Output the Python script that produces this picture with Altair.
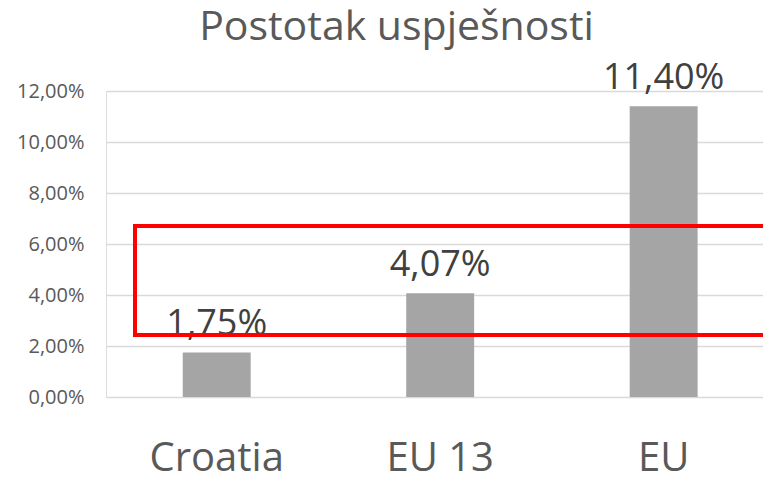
import altair as alt
import pandas as pd

categories = ["Croatia", "EU 13", "EU"]
values = [0.0175, 0.0407, 0.1140]
value_labels = ["1,75%", "4,07%", "11,40%"]
y_ticks = [0.0, 0.02, 0.04, 0.06, 0.08, 0.10, 0.12]
highlight_low = [0.0243]
highlight_high = [0.0671]

df = pd.DataFrame({"cat": categories, "val": values, "lab": value_labels})
hl = pd.DataFrame({"lo": highlight_low, "hi": highlight_high})

FONT = "Open Sans"

x_enc = alt.X("cat:N", sort=categories, title=None,
              scale=alt.Scale(paddingInner=0.696, paddingOuter=0.318, align=0.54),
              axis=alt.Axis(labelAngle=0, labelFont=FONT, labelFontSize=40,
                            labelColor="#595959", labelPadding=73,
                            labelBaseline="alphabetic",
                            domain=False, ticks=False, grid=False))
y_scale = alt.Scale(domain=[0, 0.12], nice=False)

bars = alt.Chart(df).mark_bar(color="#a5a5a5").encode(
    x=x_enc,
    y=alt.Y("val:Q", scale=y_scale, title=None,
            axis=alt.Axis(values=y_ticks,
                          labelExpr="replace(format(datum.value, '.2%'), '.', ',')",
                          labelFont=FONT, labelFontSize=20, labelColor="#595959",
                          labelPadding=22, domain=False, ticks=False,
                          gridColor="#d9d9d9", gridWidth=1.5)),
)

texts = alt.Chart(df).mark_text(font=FONT, fontSize=36, color="#404040",
                                baseline="alphabetic", dy=-17).encode(
    x=alt.X("cat:N", sort=categories),
    y=alt.Y("val:Q", scale=y_scale),
    text="lab:N",
)

box = alt.Chart(hl).mark_rect(fill=None, stroke="#ff0000", strokeWidth=4, clip=False).encode(
    x=alt.value(29), x2=alt.value(700),
    y=alt.Y("hi:Q", scale=y_scale), y2="lo:Q",
)

chart = alt.layer(bars, texts, box).properties(
    width=657, height=306,
    title=alt.TitleParams("Postotak uspješnosti", font=FONT, fontSize=41,
                          fontWeight="normal", color="#595959", anchor="middle",
                          frame="group", dx=-38, baseline="alphabetic", offset=-21),
    padding={"left": 98, "top": 83, "right": 0, "bottom": 85},
    autosize=alt.AutoSizeParams(type="none"),
).configure_view(stroke=None).configure(background="white")

chart.save("out.html", embed_options={"renderer": "svg", "actions": False})
